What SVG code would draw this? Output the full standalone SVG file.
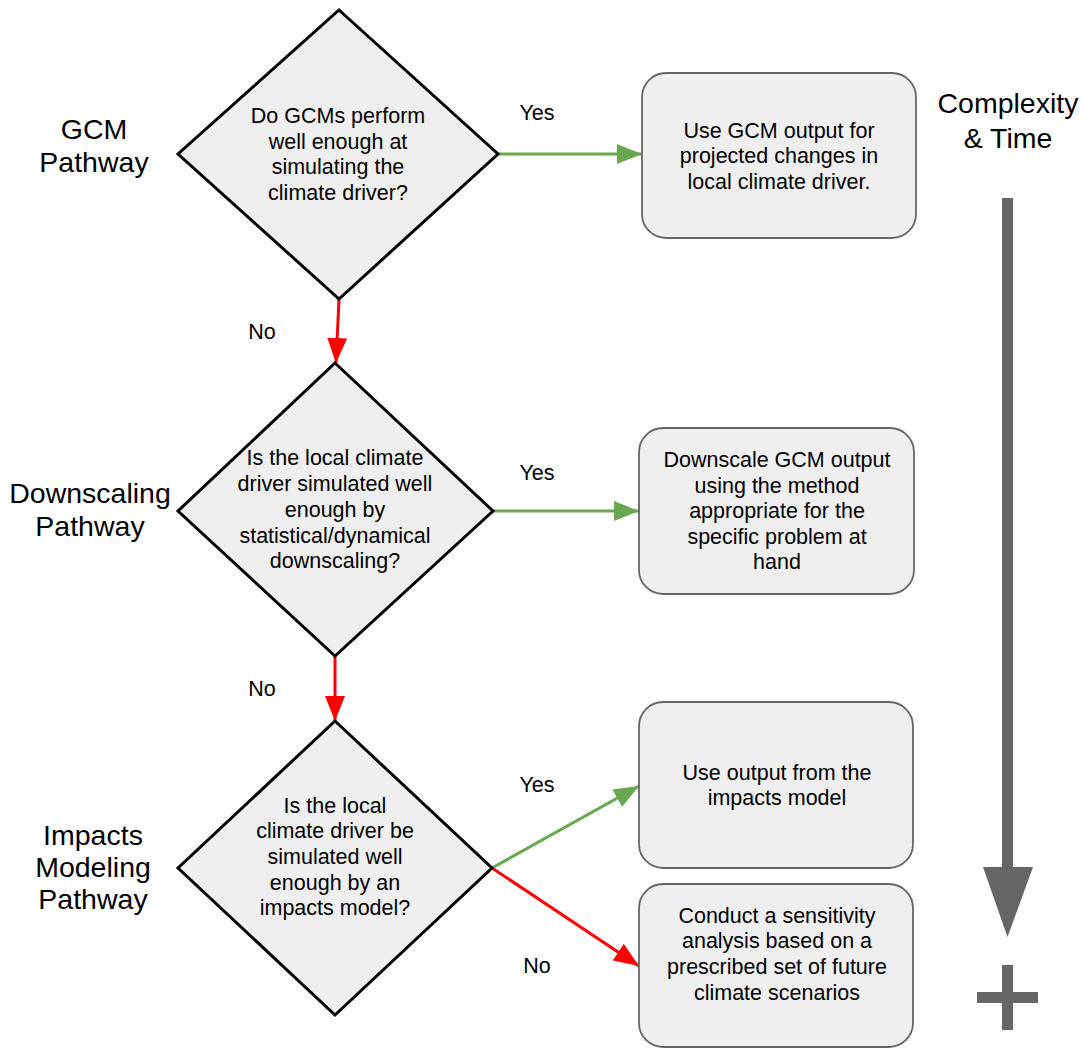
<svg xmlns="http://www.w3.org/2000/svg" width="1081" height="1049" viewBox="0 0 1081 1049">
<style>
text{font-family:"Liberation Sans",Arial,sans-serif;fill:#000;text-anchor:middle}
.t21{font-size:21.5px}
.t28{font-size:28.5px}
.dia{fill:#efefef;stroke:#000;stroke-width:3;stroke-linejoin:miter}
.box{fill:#efefef;stroke:#666;stroke-width:1.8}
.g{stroke:#6aa84f;stroke-width:3;fill:none}
.r{stroke:#ff0000;stroke-width:3;fill:none}
</style>
<defs>
<marker id="ag" markerUnits="userSpaceOnUse" markerWidth="26" markerHeight="20" refX="25" refY="10" orient="auto"><path d="M0,0 L25,10 L0,20 Z" fill="#6aa84f"/></marker>
<marker id="ar" markerUnits="userSpaceOnUse" markerWidth="26" markerHeight="20" refX="25" refY="10" orient="auto"><path d="M0,0 L25,10 L0,20 Z" fill="#ff0000"/></marker>
</defs>
<rect width="1081" height="1049" fill="#fff"/>

<g id="label-gcm"><text class="t28" x="94" y="139">GCM</text><text class="t28" x="94" y="172">Pathway</text></g>
<g id="label-downscaling"><text class="t28" x="90" y="503">Downscaling</text><text class="t28" x="90" y="536">Pathway</text></g>
<g id="label-impacts"><text class="t28" x="93" y="845">Impacts</text><text class="t28" x="93" y="877">Modeling</text><text class="t28" x="93" y="909">Pathway</text></g>

<g id="connectors">
<line class="g" x1="498" y1="154" x2="642" y2="154" marker-end="url(#ag)"/>
<line class="r" x1="339" y1="299" x2="336" y2="363" marker-end="url(#ar)"/>
<line class="g" x1="493" y1="511" x2="639" y2="511" marker-end="url(#ag)"/>
<line class="r" x1="335" y1="656" x2="335" y2="721" marker-end="url(#ar)"/>
<line class="g" x1="492" y1="868" x2="639" y2="786" marker-end="url(#ag)"/>
<line class="r" x1="492" y1="868" x2="639" y2="966" marker-end="url(#ar)"/>
<text class="t21" x="537" y="120">Yes</text>
<text class="t21" x="262" y="339">No</text>
<text class="t21" x="537" y="480">Yes</text>
<text class="t21" x="262" y="696">No</text>
<text class="t21" x="537" y="792">Yes</text>
<text class="t21" x="537" y="973">No</text>
</g>

<g id="decision-gcm">
<polygon class="dia" points="339,10 498,154 339,299 178,154"/>
<text class="t21" x="338" y="123">Do GCMs perform</text>
<text class="t21" x="338" y="149">well enough at</text>
<text class="t21" x="338" y="174">simulating the</text>
<text class="t21" x="338" y="200">climate driver?</text>
</g>

<g id="decision-downscaling">
<polygon class="dia" points="335,363 493,511 335,656 178,511"/>
<text class="t21" x="335" y="465">Is the local climate</text>
<text class="t21" x="335" y="491">driver simulated well</text>
<text class="t21" x="335" y="517">enough by</text>
<text class="t21" x="335" y="543">statistical/dynamical</text>
<text class="t21" x="335" y="568">downscaling?</text>
</g>

<g id="decision-impacts">
<polygon class="dia" points="335,721 492,868 335,1015 178,868"/>
<text class="t21" x="335" y="813">Is the local</text>
<text class="t21" x="335" y="838">climate driver be</text>
<text class="t21" x="335" y="864">simulated well</text>
<text class="t21" x="335" y="890">enough by an</text>
<text class="t21" x="335" y="915">impacts model?</text>
</g>

<g id="box-gcm">
<rect class="box" x="642" y="73" width="274" height="165" rx="24"/>
<text class="t21" x="779" y="138">Use GCM output for</text>
<text class="t21" x="779" y="163">projected changes in</text>
<text class="t21" x="779" y="189">local climate driver.</text>
</g>

<g id="box-downscale">
<rect class="box" x="639" y="428" width="275" height="166" rx="24"/>
<text class="t21" x="777" y="467">Downscale GCM output</text>
<text class="t21" x="777" y="493">using the method</text>
<text class="t21" x="777" y="518">appropriate for the</text>
<text class="t21" x="777" y="544">specific problem at</text>
<text class="t21" x="777" y="569">hand</text>
</g>

<g id="box-impacts">
<rect class="box" x="639" y="702" width="274" height="166" rx="24"/>
<text class="t21" x="777" y="780">Use output from the</text>
<text class="t21" x="777" y="805">impacts model</text>
</g>

<g id="box-sensitivity">
<rect class="box" x="639" y="884" width="274" height="163" rx="24"/>
<text class="t21" x="777" y="923">Conduct a sensitivity</text>
<text class="t21" x="777" y="948">analysis based on a</text>
<text class="t21" x="777" y="974">prescribed set of future</text>
<text class="t21" x="777" y="1000">climate scenarios</text>
</g>

<g id="complexity">
<text class="t28" x="1008" y="113">Complexity</text>
<text class="t28" x="1008" y="148">&amp; Time</text>
<rect x="1002" y="198" width="11" height="672" fill="#666"/>
<polygon points="983,867 1033,867 1007.5,937" fill="#666"/>
<rect x="977" y="992" width="61" height="11" fill="#666"/>
<rect x="1002" y="965" width="11" height="65" fill="#666"/>
</g>
</svg>
